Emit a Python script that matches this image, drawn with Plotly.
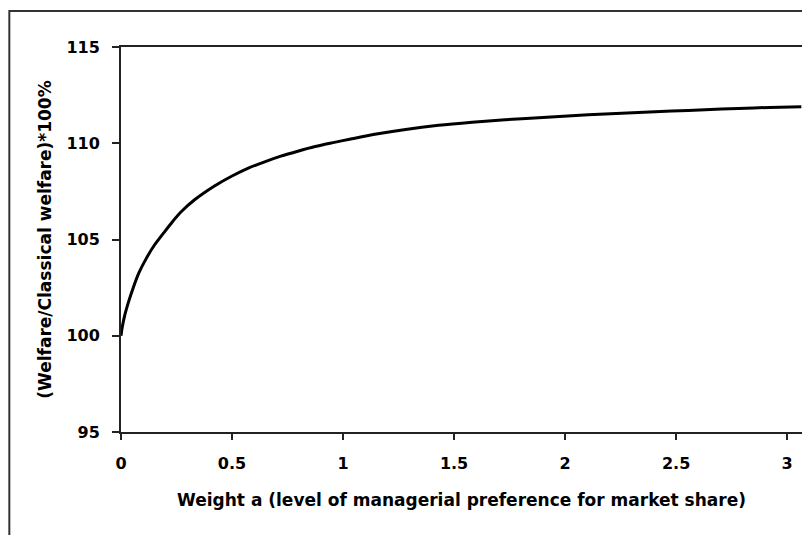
import plotly.graph_objects as go

weight_a = [0.0, 0.005, 0.017, 0.035, 0.054, 0.08, 0.114, 0.15, 0.196, 0.23, 0.271, 0.33, 0.421, 0.5, 0.571,
            0.65, 0.72, 0.8, 0.87, 0.95, 1.035, 1.15, 1.282, 1.43, 1.581, 1.73, 1.881, 2.03, 2.18, 2.33,
            2.48, 2.63, 2.78, 2.92, 3.064]
welfare_pct = [100.0, 100.4, 101.07, 101.8, 102.46, 103.25, 104.02, 104.7, 105.4, 105.9, 106.44, 107.05, 107.78, 108.3, 108.7,
               109.05, 109.33, 109.6, 109.82, 110.02, 110.22, 110.48, 110.72, 110.93, 111.09, 111.22, 111.33, 111.43, 111.52, 111.6,
               111.67, 111.74, 111.81, 111.86, 111.9]

x_ticks = [0, 0.5, 1, 1.5, 2, 2.5, 3]
x_tick_labels = ["0", "0.5", "1", "1.5", "2", "2.5", "3"]
y_ticks = [95, 100, 105, 110, 115]
y_tick_labels = ["95", "100", "105", "110", "115"]

FONT = "DejaVu Sans, Verdana, sans-serif"

fig = go.Figure()
fig.add_trace(go.Scatter(
    x=weight_a, y=welfare_pct, mode="lines",
    line=dict(color="black", width=3, shape="spline", smoothing=0.6),
    showlegend=False, hoverinfo="skip",
))

# the page body adds an 8px offset, so the figure is sized to fill the rest of the window
W, H = 802, 527
L, R, T, B = 113, 6, 39, 103
pw = W - L - R
ph = H - T - B

fig.update_layout(
    width=W, height=H,
    margin=dict(l=L, r=R, t=T, b=B),
    paper_bgcolor="white", plot_bgcolor="white",
    font=dict(family=FONT, color="black"),
    xaxis=dict(
        range=[0, 3.067], tickvals=x_ticks, ticktext=x_tick_labels,
        showgrid=False, zeroline=False,
        showline=True, linecolor="#222", linewidth=2, mirror=True,
        ticks="outside", ticklen=6, tickwidth=2, tickcolor="#222",
        tickfont=dict(family=FONT, size=16, color="black", weight="bold"),
        ticklabelstandoff=10,
        title=dict(text="<b>Weight a (level of managerial preference for market share)</b>",
                   font=dict(family=FONT, size=17, color="black"), standoff=22),
    ),
    yaxis=dict(
        range=[95, 115], tickvals=y_ticks, ticktext=y_tick_labels,
        showgrid=False, zeroline=False,
        showline=True, linecolor="#222", linewidth=2, mirror=True,
        ticks="outside", ticklen=7, tickwidth=2, tickcolor="#222",
        tickfont=dict(family=FONT, size=16, color="black", weight="bold"),
        ticklabelstandoff=9,
        title=dict(text="<b>(Welfare/Classical welfare)*100%</b>",
                   font=dict(family=FONT, size=17, color="black"), standoff=10),
    ),
)

# outer chart frame (only top and left edges visible in the crop)
fig.add_shape(type="rect", xref="paper", yref="paper",
              x0=(1 - L) / pw, x1=(W + 5 - L) / pw,
              y0=-(H + 5 - T - ph) / ph, y1=(ph + T - 3) / ph,
              line=dict(color="#333", width=2), fillcolor="rgba(0,0,0,0)", layer="below")

fig.write_html("out.html")
